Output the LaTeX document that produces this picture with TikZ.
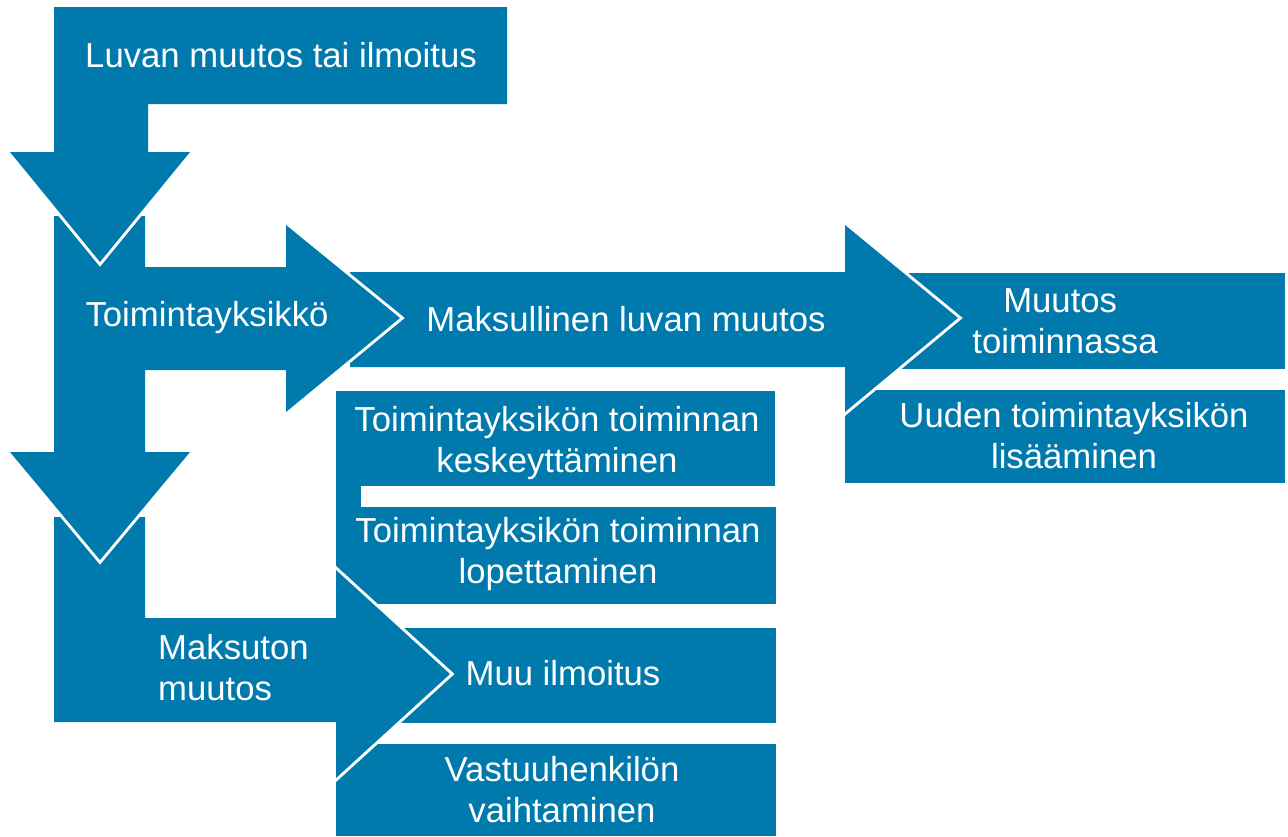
\documentclass[tikz,border=0pt]{standalone}
\usepackage{fontspec}
\setmainfont{Liberation Sans}
\definecolor{blu}{RGB}{0,121,173}
\begin{document}
\begin{tikzpicture}[x=1pt,y=-1pt,
  box/.style={fill=blu},
  arrowshape/.style={fill=blu, preaction={draw=white, line width=6pt, line join=miter}},
  lbl/.style={text=white, font=\fontsize{34.7}{41}\selectfont, inner sep=0pt, align=center}]
\useasboundingbox (0,0) rectangle (1288,836);
% plain boxes (back layer)
\fill[box] (900,273) rectangle (1285,369);
\fill[box] (845,390) rectangle (1285,483);
\fill[box] (336,391) rectangle (775,486);
\fill[box] (336,486) rectangle (361,507);
\fill[box] (336,507) rectangle (776,604);
\fill[box] (390,628) rectangle (776,723);
\fill[box] (336,744) rectangle (776,836);
% Maksullinen luvan muutos arrow
\path[arrowshape] (350,272) -- (845,272) -- (845,225) -- (958,318) -- (845,412) -- (845,367) -- (350,367) -- cycle;
% Maksuton muutos arrow
\path[arrowshape] (54,517) -- (145,517) -- (145,618) -- (336,618) -- (336,570) -- (450,674) -- (336,778) -- (336,722) -- (54,722) -- cycle;
% Toimintayksikko arrow
\path[arrowshape] (54,216) -- (145,216) -- (145,267) -- (286,267) -- (286,225) -- (400,318) -- (286,412) -- (286,370) -- (145,370) -- (145,452) -- (190,452) -- (100,560) -- (10,452) -- (54,452) -- cycle;
% Luvan muutos tai ilmoitus arrow
\path[arrowshape] (54,7) -- (507,7) -- (507,104) -- (148,104) -- (148,152) -- (190,152) -- (100,262) -- (10,152) -- (54,152) -- cycle;
% labels
\node[lbl] (luvan) at (281,55.5) {Luvan muutos tai ilmoitus};
\node[lbl] (toim) at (207,317.5) {Toimintayksikkö};
\node[lbl] (maksul) at (626,319.5) {Maksullinen luvan muutos};
\node[lbl] (muutos) at (1065,321) {Muutos\hspace*{9.7pt}\\toiminnassa};
\node[lbl] (uuden) at (1074,435.5) {Uuden toimintayksikön\\lisääminen};
\node[lbl] (kesk) at (557,443) {Toimintayksikön toiminnan\\keskeyttäminen};
\node[lbl] (lop) at (558,554) {Toimintayksikön toiminnan\\lopettaminen};
\node[lbl, align=left, anchor=west] (maksut) at (158,667.5) {Maksuton\\muutos};
\node[lbl] (muu) at (563,673.5) {Muu ilmoitus};
\node[lbl] (vast) at (562,790) {Vastuuhenkilön\\vaihtaminen};
\end{tikzpicture}
\end{document}
